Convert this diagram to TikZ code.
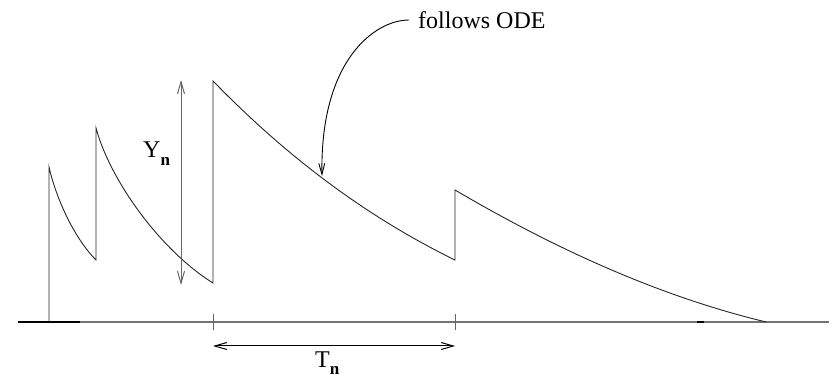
\documentclass[tikz,border=0pt]{standalone}
\usepackage{fontspec}
\setmainfont{Liberation Serif}
\newfontfamily\timesfam{Liberation Serif}
\usetikzlibrary{arrows.meta}
\begin{document}
\begin{tikzpicture}[x=1pt,y=-1pt,
  curve/.style={line width=0.9pt, black!85},
  axisline/.style={line width=1.2pt, black!55},
  graystroke/.style={line width=1pt, black!60},
  barb/.style={-{Straight Barb[length=11pt,width=6pt]}},
  dbarb/.style={{Straight Barb[length=12pt,width=7pt]}-{Straight Barb[length=12pt,width=7pt]}},
  lbl/.style={font=\timesfam\fontsize{24}{28}\selectfont, inner sep=0pt, anchor=base west}]
\useasboundingbox (0,0) rectangle (839,379);
% axis
\coordinate (axL) at (18,322);
\coordinate (axR) at (829,322);
\draw[axisline] (axL) -- (axR);
\draw[line width=2.2pt] (axL) -- (80,322);
\draw[line width=2.2pt] (697,322) -- (704,322);
% ticks
\coordinate (t1) at (213,322);
\coordinate (t2) at (455,322);
\draw[graystroke] ([yshift=-8pt]t1) -- ([yshift=8pt]t1);
\draw[graystroke] ([yshift=-8pt]t2) -- ([yshift=8pt]t2);
% sawtooth trajectory
\draw[curve] (49,322) -- (49,167)
  .. controls (57,202) and (76,240) .. (96,260) -- (96,128)
  .. controls (110,180) and (160,250) .. (213,283) -- (213,81)
  .. controls (293.7,164) and (374.3,220.5) .. (455,260) -- (455,190)
  .. controls (558.7,251) and (662.3,297) .. (766,322);
% Y_n arrow
\coordinate (ytop) at (181,80);
\coordinate (ybot) at (181,285);
\draw[graystroke, dbarb] (ytop) -- (ybot);
\node[lbl] (yn) at (143,158) {Y\raisebox{-8pt}{\fontsize{17}{20}\selectfont\bfseries n}};
% T_n arrow
\coordinate (tl) at (213,346);
\coordinate (tr) at (455,346);
\draw[line width=1pt, dbarb] (tl) -- (tr);
\node[lbl] (tn) at (315,368) {T\raisebox{-7pt}{\fontsize{17}{20}\selectfont\bfseries n}};
% follows ODE
\node[lbl, anchor=west, inner xsep=9pt] (fo) at (409,20) {follows ODE};
\coordinate (odetip) at (322,176);
\draw[line width=0.9pt, barb] (fo.west) .. controls (375,20) and (320,60) .. (odetip);
\end{tikzpicture}
\end{document}
